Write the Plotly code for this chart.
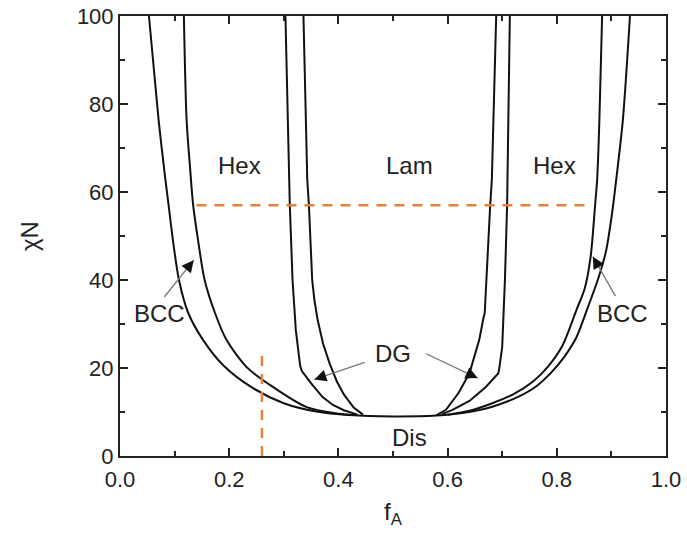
import plotly.graph_objects as go

# Order-disorder boundary (Dis)
odt_x = [0.053, 0.062, 0.071, 0.082, 0.089, 0.097, 0.108, 0.125, 0.152, 0.19, 0.24, 0.30, 0.36, 0.42, 0.50,
         0.58, 0.63, 0.682, 0.73, 0.762, 0.79, 0.814, 0.836, 0.856, 0.875, 0.89, 0.901, 0.909, 0.921, 0.934]
odt_y = [100, 88, 76, 64, 57, 49, 40, 32.5, 26.4, 20.5, 15.7, 12.0, 10.1, 9.3, 9.0,
         9.2, 9.8, 11.2, 13.5, 15.8, 19.0, 22.6, 27.0, 33.5, 40.0, 46.5, 55.0, 63.0, 76.4, 100]

# BCC / Hex boundaries
bcc_l_x = [0.117, 0.122, 0.128, 0.134, 0.143, 0.155, 0.174, 0.195, 0.232, 0.28, 0.342, 0.40, 0.43]
bcc_l_y = [100, 76.4, 66, 57, 49, 40, 32.5, 26.4, 20.2, 15.7, 11.1, 9.6, 9.3]
bcc_r_x = [0.883, 0.878, 0.874, 0.870, 0.862, 0.851, 0.837, 0.81, 0.785, 0.757, 0.72, 0.682, 0.64, 0.60]
bcc_r_y = [100, 76.4, 63, 56.8, 45.3, 38, 33.5, 25, 20.5, 17, 14, 12, 10.3, 9.4]

# Hex / DG boundaries
hdg_l_x = [0.303, 0.309, 0.311, 0.316, 0.322, 0.330, 0.333, 0.352, 0.371, 0.390, 0.410, 0.435]
hdg_l_y = [100, 62.7, 57, 40, 28.6, 20.5, 19.3, 16.2, 13.4, 11.6, 10.4, 9.4]
hdg_r_x = [0.714, 0.710, 0.709, 0.705, 0.700, 0.695, 0.693, 0.670, 0.640, 0.609, 0.59]
hdg_r_y = [100, 62.7, 57, 40, 24.8, 20.2, 18.8, 15.7, 12.5, 10.5, 9.5]

# DG / Lam boundaries
dgl_l_x = [0.336, 0.343, 0.346, 0.352, 0.356, 0.362, 0.372, 0.384, 0.397, 0.410, 0.428, 0.445]
dgl_l_y = [100, 62.7, 57, 40, 35.5, 30.9, 25.5, 21.0, 17.0, 14.0, 11.0, 9.4]
dgl_r_x = [0.689, 0.681, 0.678, 0.672, 0.668, 0.666, 0.658, 0.640, 0.620, 0.597, 0.58]
dgl_r_y = [100, 62.7, 57, 40, 32.5, 31.6, 26.4, 18.8, 14.3, 10.5, 9.3]

# Orange reference lines
h_ref_x = [0.14, 0.853]
h_ref_y = [57, 57]
v_ref_x = [0.26, 0.26]
v_ref_y = [0, 24]

labels = ["Hex", "Lam", "Hex", "Dis", "BCC", "BCC", "DG"]
label_x = [0.219, 0.53, 0.795, 0.53, 0.073, 0.92, 0.50]
label_y = [66.1, 66.1, 66.1, 4.2, 32.3, 32.5, 23.4]

# Arrows: (tail x, tail y, head x, head y)
arrows = [
    (0.079, 35.8, 0.135, 44.5),
    (0.909, 36.0, 0.866, 45.3),
    (0.451, 21.4, 0.356, 17.4),
    (0.558, 23.4, 0.655, 17.7),
]

FONT = "Arial, Liberation Sans, sans-serif"
fig = go.Figure()

for xs, ys, shape in [
    (odt_x, odt_y, "spline"),
    (bcc_l_x, bcc_l_y, "spline"),
    (bcc_r_x, bcc_r_y, "spline"),
    (hdg_l_x, hdg_l_y, "linear"),
    (hdg_r_x, hdg_r_y, "linear"),
    (dgl_l_x, dgl_l_y, "linear"),
    (dgl_r_x, dgl_r_y, "linear"),
]:
    fig.add_trace(go.Scatter(x=xs, y=ys, mode="lines",
                             line=dict(color="#111111", width=2,
                                       shape=shape, smoothing=0.8 if shape == "spline" else None),
                             showlegend=False, hoverinfo="skip"))

for xs, ys in [(h_ref_x, h_ref_y), (v_ref_x, v_ref_y)]:
    fig.add_trace(go.Scatter(x=xs, y=ys, mode="lines",
                             line=dict(color="#E8823A", width=2.5, dash="10px,8px"),
                             showlegend=False, hoverinfo="skip"))

for t, x, y in zip(labels, label_x, label_y):
    fig.add_annotation(x=x, y=y, text=t, showarrow=False,
                       font=dict(family=FONT, size=24, color="#222222"))

for tx, ty, hx, hy in arrows:
    # gray shaft
    fig.add_annotation(x=hx, y=hy, ax=tx, ay=ty, axref="x", ayref="y", xref="x", yref="y",
                       text="", showarrow=True, arrowhead=0, arrowwidth=1.3, arrowcolor="#777777")
    # black head
    fig.add_annotation(x=hx, y=hy, ax=hx - (hx - tx) * 0.12, ay=hy - (hy - ty) * 0.12,
                       axref="x", ayref="y", xref="x", yref="y",
                       text="", showarrow=True, arrowhead=2, arrowsize=1.6, arrowwidth=1.5,
                       arrowcolor="#111111")

axis_common = dict(showline=True, linecolor="#222222", linewidth=2, mirror="ticks",
                   ticks="inside", ticklen=8, tickwidth=2, tickcolor="#222222",
                   showgrid=False, zeroline=False, automargin=False,
                   tickfont=dict(family=FONT, size=22, color="#222222"))

fig.update_xaxes(range=[0, 1.0], tickvals=[0, 0.2, 0.4, 0.6, 0.8, 1.0],
                 ticktext=["0.0", "0.2", "0.4", "0.6", "0.8", "1.0"],
                 ticklabelstandoff=3,
                 minor=dict(tickvals=[0.1, 0.3, 0.5, 0.7, 0.9], ticks="inside", ticklen=5,
                            tickwidth=2, tickcolor="#222222"),
                 title=dict(text="f<sub>A</sub>", font=dict(family=FONT, size=24, color="#222222"),
                            standoff=12),
                 **axis_common)
fig.update_yaxes(range=[0, 100], tickvals=[0, 20, 40, 60, 80, 100],
                 minor=dict(tickvals=[10, 30, 50, 70, 90], ticks="inside", ticklen=5,
                            tickwidth=2, tickcolor="#222222"),
                 title=dict(text="χN", font=dict(family=FONT, size=24, color="#222222"),
                            standoff=31),
                 **axis_common)

fig.update_layout(width=687, height=546, margin=dict(l=120, r=21, t=16, b=90),
                  plot_bgcolor="white", paper_bgcolor="white")

fig.write_html("out.html")
